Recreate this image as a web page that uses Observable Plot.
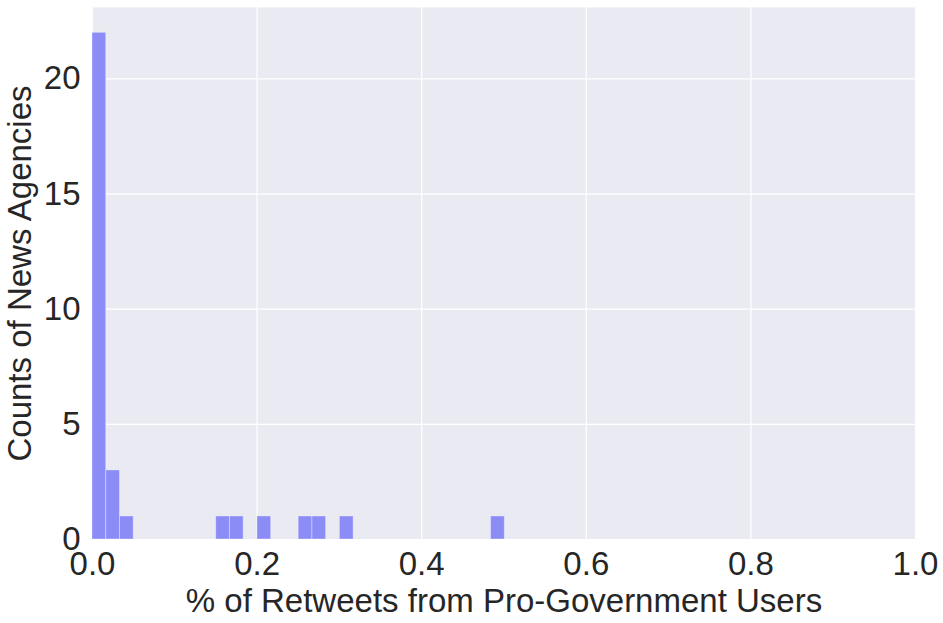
<!DOCTYPE html>
<html>
<head>
<meta charset="utf-8">
<script src="https://cdn.jsdelivr.net/npm/d3@7"></script>
<script src="https://cdn.jsdelivr.net/npm/@observablehq/plot@0.6"></script>
<style>
  html, body { margin: 0; padding: 0; background: #ffffff; }
  svg { display: block; }
</style>
</head>
<body>
<div id="chart"></div>
<script>
// Histogram bins (lower edges) and counts
const binWidth = 0.0167;
const binStarts = [0.0, 0.0167, 0.0334, 0.1503, 0.1670, 0.2004, 0.2505, 0.2672, 0.3006, 0.4843];
const binCounts = [22, 3, 1, 1, 1, 1, 1, 1, 1, 1];
const xTicks = [0, 0.2, 0.4, 0.6, 0.8, 1.0];
const yTicks = [0, 5, 10, 15, 20];

const bins = binStarts.map((s, i) => ({x1: s, x2: s + binWidth, count: binCounts[i]}));

const chart = Plot.plot({
  width: 943,
  height: 623,
  marginLeft: 92,
  marginRight: 28,
  marginTop: 7,
  marginBottom: 84,
  style: {fontFamily: "'Liberation Sans', Arial, sans-serif", background: "#ffffff", overflow: "visible"},
  x: {domain: [0, 1]},
  y: {domain: [0, 23.1]},
  marks: [
    Plot.frame({fill: "#EAEAF2", stroke: null}),
    Plot.gridX(xTicks, {stroke: "#ffffff", strokeOpacity: 1, strokeWidth: 1.2}),
    Plot.gridY(yTicks, {stroke: "#ffffff", strokeOpacity: 1, strokeWidth: 1.2}),
    Plot.rectY(bins, {x1: "x1", x2: "x2", y: "count", fill: "#8c8cf7", stroke: "#ffffff", strokeOpacity: 0.35, strokeWidth: 1, inset: 0}),
    Plot.axisX(xTicks, {tickSize: 0, tickPadding: 12, tickFormat: d3.format(".1f"), fontSize: 33, fill: "#262626",
      label: "% of Retweets from Pro-Government Users", labelAnchor: "center", labelArrow: "none", labelOffset: 72}),
    Plot.axisY(yTicks, {tickSize: 0, tickPadding: 12, fontSize: 33, fill: "#262626",
      label: "Counts of News Agencies", labelAnchor: "center", labelArrow: "none", labelOffset: 85})
  ]
});
document.getElementById("chart").appendChild(chart);
</script>
</body>
</html>
